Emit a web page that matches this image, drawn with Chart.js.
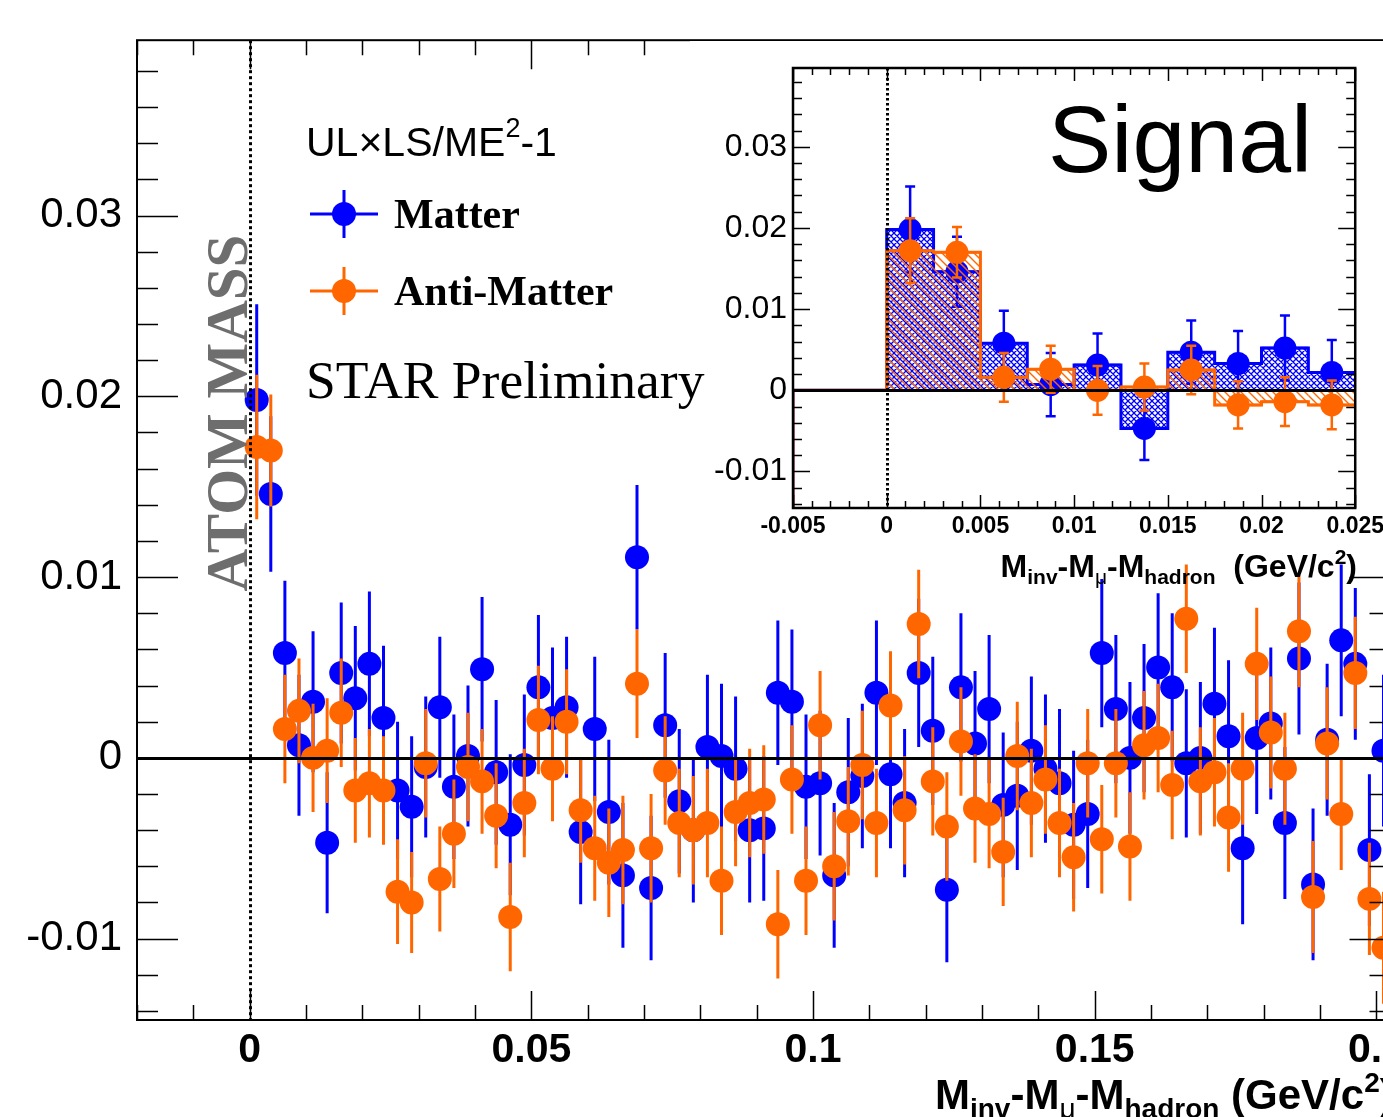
<!DOCTYPE html>
<html>
<head>
<meta charset="utf-8">
<title>UL x LS / ME^2 - 1 : Matter vs Anti-Matter</title>
<script src="https://cdn.jsdelivr.net/npm/chart.js@4.4.0/dist/chart.umd.min.js"></script>
<style>
  html, body { margin: 0; padding: 0; background: #fff; overflow: hidden; width: 1383px; height: 1117px; }
  #mainChart { position: absolute; left: 0; top: 0; }
  #insetChart { position: absolute; left: 690px; top: 41px; }
</style>
</head>
<body>
<canvas id="mainChart" width="1411" height="1117"></canvas>
<canvas id="insetChart" width="699" height="560"></canvas>
<script>
// bin centres of M_inv - M_mu - M_hadron (GeV/c^2), 2.5 MeV bins
const binCenters = [
  0.00125, 0.00375, 0.00625, 0.00875, 0.01125, 0.01375, 0.01625, 0.01875,
  0.02125, 0.02375, 0.02625, 0.02875, 0.03125, 0.03375, 0.03625, 0.03875,
  0.04125, 0.04375, 0.04625, 0.04875, 0.05125, 0.05375, 0.05625, 0.05875,
  0.06125, 0.06375, 0.06625, 0.06875, 0.07125, 0.07375, 0.07625, 0.07875,
  0.08125, 0.08375, 0.08625, 0.08875, 0.09125, 0.09375, 0.09625, 0.09875,
  0.10125, 0.10375, 0.10625, 0.10875, 0.11125, 0.11375, 0.11625, 0.11875,
  0.12125, 0.12375, 0.12625, 0.12875, 0.13125, 0.13375, 0.13625, 0.13875,
  0.14125, 0.14375, 0.14625, 0.14875, 0.15125, 0.15375, 0.15625, 0.15875,
  0.16125, 0.16375, 0.16625, 0.16875, 0.17125, 0.17375, 0.17625, 0.17875,
  0.18125, 0.18375, 0.18625, 0.18875, 0.19125, 0.19375, 0.19625, 0.19875,
  0.20125
];
const binWidth = 0.0025;

// Matter
const matterVals = [
  0.0198, 0.0146, 0.0058, 0.0007, 0.0031, -0.0047, 0.0047, 0.0033,
  0.0052, 0.0022, -0.0018, -0.0027, -0.0005, 0.0028, -0.0016, 0.0001,
  0.0049, -0.0008, -0.0037, -0.0004, 0.0039, 0.0022, 0.0028, -0.0041,
  0.0016, -0.0030, -0.0065, 0.0111, -0.0072, 0.0018, -0.0024, -0.0040,
  0.0006, 0.0001, -0.0006, -0.0040, -0.0039, 0.0036, 0.0031, -0.0016,
  -0.0014, -0.0065, -0.0019, -0.0010, 0.0036, -0.0009, -0.0025, 0.0047,
  0.0015, -0.0073, 0.0039, 0.0008, 0.0027, -0.0026, -0.0021, 0.0004,
  -0.0006, -0.0014, -0.0037, -0.0031, 0.0058, 0.0027, 0.0000, 0.0022,
  0.0050, 0.0039, -0.0003, 0.0000, 0.0030, 0.0012, -0.0050, 0.0011,
  0.0019, -0.0036, 0.0055, -0.0070, 0.0010, 0.0065, 0.0052, -0.0051,
  0.0004
];
const matterErrs = [
  0.0053, 0.0043, 0.0040, 0.0039, 0.0039, 0.0039, 0.0039, 0.0040,
  0.0040, 0.0040, 0.0038, 0.0039, 0.0039, 0.0039, 0.0040, 0.0039,
  0.0040, 0.0040, 0.0039, 0.0039, 0.0040, 0.0039, 0.0039, 0.0040,
  0.0040, 0.0040, 0.0040, 0.0040, 0.0040, 0.0040, 0.0040, 0.0040,
  0.0040, 0.0040, 0.0040, 0.0040, 0.0040, 0.0040, 0.0040, 0.0040,
  0.0040, 0.0040, 0.0041, 0.0040, 0.0040, 0.0041, 0.0041, 0.0041,
  0.0041, 0.0040, 0.0041, 0.0040, 0.0041, 0.0040, 0.0041, 0.0041,
  0.0041, 0.0041, 0.0041, 0.0041, 0.0041, 0.0041, 0.0042, 0.0041,
  0.0041, 0.0041, 0.0041, 0.0042, 0.0042, 0.0042, 0.0042, 0.0042,
  0.0042, 0.0042, 0.0042, 0.0042, 0.0042, 0.0042, 0.0042, 0.0042,
  0.0042
];

// Anti-Matter
const antiVals = [
  0.0172, 0.0170, 0.0016, 0.0026, 0.0000, 0.0004, 0.0025, -0.0018,
  -0.0014, -0.0018, -0.0074, -0.0080, -0.0003, -0.0067, -0.0042, -0.0005,
  -0.0013, -0.0032, -0.0088, -0.0025, 0.0021, -0.0006, 0.0020, -0.0029,
  -0.0050, -0.0058, -0.0051, 0.0041, -0.0050, -0.0007, -0.0036, -0.0040,
  -0.0036, -0.0068, -0.0030, -0.0025, -0.0023, -0.0092, -0.0012, -0.0068,
  0.0018, -0.0060, -0.0035, -0.0004, -0.0036, 0.0029, -0.0029, 0.0074,
  -0.0013, -0.0038, 0.0009, -0.0028, -0.0031, -0.0052, 0.0001, -0.0025,
  -0.0012, -0.0036, -0.0055, -0.0003, -0.0045, -0.0003, -0.0049, 0.0007,
  0.0011, -0.0015, 0.0077, -0.0013, -0.0008, -0.0033, -0.0006, 0.0052,
  0.0014, -0.0006, 0.0070, -0.0077, 0.0008, -0.0031, 0.0047, -0.0078,
  -0.0105
];
const antiErrs = [
  0.0040, 0.0031, 0.0030, 0.0029, 0.0030, 0.0029, 0.0030, 0.0029,
  0.0030, 0.0030, 0.0029, 0.0028, 0.0030, 0.0029, 0.0030, 0.0030,
  0.0029, 0.0029, 0.0030, 0.0030, 0.0030, 0.0029, 0.0029, 0.0029,
  0.0029, 0.0030, 0.0030, 0.0030, 0.0030, 0.0030, 0.0030, 0.0030,
  0.0030, 0.0030, 0.0030, 0.0030, 0.0030, 0.0030, 0.0030, 0.0030,
  0.0030, 0.0030, 0.0030, 0.0030, 0.0030, 0.0030, 0.0030, 0.0030,
  0.0030, 0.0030, 0.0030, 0.0030, 0.0030, 0.0030, 0.0030, 0.0030,
  0.0030, 0.0030, 0.0030, 0.0030, 0.0030, 0.0030, 0.0030, 0.0030,
  0.0030, 0.0030, 0.0030, 0.0030, 0.0030, 0.0030, 0.0031, 0.0031,
  0.0031, 0.0031, 0.0031, 0.0031, 0.0031, 0.0031, 0.0031, 0.0031,
  0.0031
];

// bins left of threshold, only their edge shows in the inset
const leadCenters = [-0.00625, -0.00375, -0.00125];
const leadVals = [-1, 0, 0];

const xTickLabels = [0, 0.05, 0.1, 0.15, 0.2];
const yTickLabels = [-0.01, 0, 0.01, 0.02, 0.03];
const insetBins = 10;
const insetXTicks = [-0.005, 0, 0.005, 0.01, 0.015, 0.02, 0.025];
const insetYTicks = [-0.01, 0, 0.01, 0.02, 0.03];

const BLUE = '#0000ff';
const ORANGE = '#ff6600';
const SANS = "'Liberation Sans', Arial, sans-serif";
const SERIF = "'Liberation Serif', 'Times New Roman', serif";

function fmt(v) {
  return String(+v.toFixed(4));
}

function toPoints(vals, n) {
  return vals.slice(0, n).map((v, i) => ({ x: binCenters[i], y: v }));
}

function clipArea(ctx, a) {
  ctx.beginPath();
  ctx.rect(a.left, a.top, a.right - a.left, a.bottom - a.top);
  ctx.clip();
}

// ROOT style ticks pointing into the frame on all four sides
function rootTicks(chart, xStep, yStep, xLen, yLen) {
  const { ctx, chartArea: a, scales: { x, y } } = chart;
  ctx.save();
  ctx.strokeStyle = '#000';
  ctx.lineWidth = 1.5;
  ctx.beginPath();
  for (let k = Math.ceil(x.min / xStep - 1e-6); k * xStep <= x.max + 1e-9; k++) {
    const px = Math.round(x.getPixelForValue(k * xStep)) + 0.5;
    const len = k % 5 === 0 ? xLen[1] : xLen[0];
    ctx.moveTo(px, a.bottom); ctx.lineTo(px, a.bottom - len);
    ctx.moveTo(px, a.top); ctx.lineTo(px, a.top + len);
  }
  for (let k = Math.ceil(y.min / yStep - 1e-6); k * yStep <= y.max + 1e-9; k++) {
    const py = Math.round(y.getPixelForValue(k * yStep)) + 0.5;
    const len = k % 5 === 0 ? yLen[1] : yLen[0];
    ctx.moveTo(a.left, py); ctx.lineTo(a.left + len, py);
    ctx.moveTo(a.right, py); ctx.lineTo(a.right - len, py);
  }
  ctx.stroke();
  ctx.restore();
}

function frameAndLines(chart, frameW, zeroW, dash) {
  const { ctx, chartArea: a, scales: { x, y } } = chart;
  ctx.save();
  // zero line
  ctx.strokeStyle = '#000';
  ctx.lineWidth = zeroW;
  const y0 = Math.round(y.getPixelForValue(0)) + 0.5;
  ctx.beginPath(); ctx.moveTo(a.left, y0); ctx.lineTo(a.right, y0); ctx.stroke();
  // threshold (atom mass) dotted line
  const x0 = Math.round(x.getPixelForValue(0)) + 0.5;
  ctx.lineWidth = 3;
  ctx.setLineDash(dash);
  ctx.beginPath(); ctx.moveTo(x0, a.top); ctx.lineTo(x0, a.bottom); ctx.stroke();
  ctx.setLineDash([]);
  ctx.lineWidth = frameW;
  ctx.strokeRect(a.left, a.top, a.right - a.left, a.bottom - a.top);
  ctx.restore();
}

function richText(ctx, x, y, parts, align) {
  let w = 0;
  parts.forEach(p => { ctx.font = p[1]; w += ctx.measureText(p[0]).width; });
  let cx = align === 'right' ? x - w : x;
  ctx.textAlign = 'left';
  ctx.textBaseline = 'alphabetic';
  parts.forEach(p => {
    ctx.font = p[1];
    ctx.fillText(p[0], cx, y + (p[2] || 0));
    cx += ctx.measureText(p[0]).width;
  });
}

function errorBars(chart, ds, lineW, cap, withX) {
  const { ctx, chartArea: a, scales: { x, y } } = chart;
  ctx.save();
  clipArea(ctx, a);
  ctx.strokeStyle = ds.backgroundColor;
  ctx.lineWidth = lineW;
  ctx.beginPath();
  ds.data.forEach((p, i) => {
    const px = x.getPixelForValue(p.x);
    const top = y.getPixelForValue(p.y + ds.errs[i]);
    const bot = y.getPixelForValue(p.y - ds.errs[i]);
    ctx.moveTo(px, top); ctx.lineTo(px, bot);
    if (cap) {
      ctx.moveTo(px - cap, top); ctx.lineTo(px + cap, top);
      ctx.moveTo(px - cap, bot); ctx.lineTo(px + cap, bot);
    }
    if (withX) {
      const py = y.getPixelForValue(p.y);
      ctx.moveTo(x.getPixelForValue(p.x - binWidth / 2), py);
      ctx.lineTo(x.getPixelForValue(p.x + binWidth / 2), py);
    }
  });
  ctx.stroke();
  ctx.restore();
}

// ---------- main plot ----------
const mainDeco = {
  id: 'mainDeco',
  beforeDatasetDraw(chart, args) {
    errorBars(chart, chart.data.datasets[args.index], 3, 0, false);
  },
  afterDatasetsDraw(chart) {
    frameAndLines(chart, 2, 3, [3, 3]);
    rootTicks(chart, 0.01, 0.002, [15, 29], [21, 41]);
  },
  afterDraw(chart) {
    const ctx = chart.ctx;
    ctx.save();
    ctx.fillStyle = '#000';

    // ATOM MASS label beside the threshold line
    ctx.save();
    ctx.translate(247, 413);
    ctx.rotate(-Math.PI / 2);
    ctx.fillStyle = '#6e6e6e';
    ctx.font = 'bold 59px ' + SERIF;
    ctx.textAlign = 'center';
    ctx.textBaseline = 'alphabetic';
    ctx.fillText('ATOM MASS', 0, 0);
    ctx.restore();

    richText(ctx, 306, 156, [
      ['UL\u00d7LS/ME', '41px ' + SANS],
      ['2', '27px ' + SANS, -19],
      ['-1', '41px ' + SANS]
    ]);

    // legend
    [[214, BLUE, 'Matter'], [291, ORANGE, 'Anti-Matter']].forEach(([ly, col, label]) => {
      ctx.strokeStyle = col;
      ctx.fillStyle = col;
      ctx.lineWidth = 3;
      ctx.beginPath();
      ctx.moveTo(310, ly); ctx.lineTo(378, ly);
      ctx.moveTo(344, ly - 24); ctx.lineTo(344, ly + 24);
      ctx.stroke();
      ctx.beginPath(); ctx.arc(344, ly, 12, 0, Math.PI * 2); ctx.fill();
      ctx.fillStyle = '#000';
      ctx.font = 'bold 42px ' + SERIF;
      ctx.textAlign = 'left';
      ctx.fillText(label, 394, ly + 14);
    });

    ctx.font = '53.5px ' + SERIF;
    ctx.fillText('STAR Preliminary', 306, 398);

    const B = 'bold 42px ' + SANS, S = 'bold 28px ' + SANS, U = '28px ' + SANS;
    richText(ctx, 935, 1109, [
      ['M', B], ['inv', S, 9], ['-M', B], ['\u03bc', U, 9], ['-M', B],
      ['hadron', S, 9], [' (GeV/c', B], ['2', S, -17], [')', B]
    ]);
    ctx.restore();
  }
};

new Chart(document.getElementById('mainChart'), {
  type: 'scatter',
  data: {
    datasets: [
      {
        label: 'Matter',
        data: toPoints(matterVals),
        errs: matterErrs,
        backgroundColor: BLUE,
        pointRadius: 12,
        pointBorderWidth: 0,
        order: 2
      },
      {
        label: 'Anti-Matter',
        data: toPoints(antiVals),
        errs: antiErrs,
        backgroundColor: ORANGE,
        pointRadius: 12,
        pointBorderWidth: 0,
        order: 1
      }
    ]
  },
  options: {
    responsive: false,
    devicePixelRatio: 1,
    animation: false,
    events: [],
    layout: { autoPadding: false, padding: { top: 40, right: 6, left: 0, bottom: 0 } },
    plugins: { legend: { display: false }, tooltip: { enabled: false } },
    scales: {
      x: {
        type: 'linear',
        min: -0.02,
        max: 0.2025,
        grid: { display: false, drawTicks: false },
        border: { display: false },
        afterFit: s => { s.height = 97; },
        afterBuildTicks: s => { s.ticks = xTickLabels.map(v => ({ value: v })); },
        ticks: {
          autoSkip: false,
          maxRotation: 0,
          padding: 6,
          color: '#000',
          font: { family: SANS, size: 41, weight: 'bold' },
          callback: v => fmt(v)
        }
      },
      y: {
        type: 'linear',
        min: -0.0145,
        max: 0.0397,
        grid: { display: false, drawTicks: false },
        border: { display: false },
        afterFit: s => { s.width = 137; },
        afterBuildTicks: s => { s.ticks = yTickLabels.map(v => ({ value: v })); },
        ticks: {
          padding: 15,
          color: '#000',
          font: { family: SANS, size: 42 },
          callback: v => fmt(v)
        }
      }
    }
  },
  plugins: [mainDeco]
});

// ---------- Signal inset ----------
function hatchPattern(ctx, kind, color) {
  const c = document.createElement('canvas');
  const n = kind === 'cross' ? 6 : 8;
  c.width = n; c.height = n;
  const g = c.getContext('2d');
  g.strokeStyle = color;
  g.lineWidth = kind === 'cross' ? 1.3 : 1.4;
  g.beginPath();
  g.moveTo(-1, -1); g.lineTo(n + 1, n + 1);
  g.moveTo(-1, n - 1); g.lineTo(1, n + 1);
  g.moveTo(n - 1, -1); g.lineTo(n + 1, 1);
  if (kind === 'cross') {
    g.moveTo(-1, n + 1); g.lineTo(n + 1, -1);
    g.moveTo(-1, 1); g.lineTo(1, -1);
    g.moveTo(n - 1, n + 1); g.lineTo(n + 1, n - 1);
  }
  g.stroke();
  return ctx.createPattern(c, 'repeat');
}

function drawHist(chart, ds) {
  const { ctx, chartArea: a, scales: { x, y } } = chart;
  const centers = leadCenters.concat(ds.data.map(p => p.x));
  const vals = leadVals.concat(ds.data.map(p => p.y));
  const y0 = y.getPixelForValue(0);
  ctx.save();
  clipArea(ctx, a);
  ctx.fillStyle = hatchPattern(ctx, ds.hatch, ds.backgroundColor);
  centers.forEach((c, i) => {
    const x0 = x.getPixelForValue(c - binWidth / 2);
    const x1 = x.getPixelForValue(c + binWidth / 2);
    const yv = y.getPixelForValue(vals[i]);
    ctx.fillRect(x0, Math.min(y0, yv), x1 - x0, Math.abs(yv - y0));
  });
  ctx.strokeStyle = ds.backgroundColor;
  ctx.lineWidth = 3;
  ctx.beginPath();
  centers.forEach((c, i) => {
    const x0 = x.getPixelForValue(c - binWidth / 2);
    const x1 = x.getPixelForValue(c + binWidth / 2);
    const yv = y.getPixelForValue(vals[i]);
    if (i === 0) ctx.moveTo(x0, y0);
    ctx.lineTo(x0, yv);
    ctx.lineTo(x1, yv);
  });
  ctx.stroke();
  ctx.restore();
}

const insetDeco = {
  id: 'insetDeco',
  beforeDraw(chart) {
    // white pad behind the inset, leaving room for the end of "STAR Preliminary"
    const ctx = chart.ctx;
    ctx.save();
    ctx.fillStyle = '#fff';
    ctx.fillRect(0, 0, chart.width, 310);
    ctx.fillRect(16, 310, chart.width - 16, 209);
    ctx.restore();
  },
  beforeDatasetDraw(chart, args) {
    const ds = chart.data.datasets[args.index];
    drawHist(chart, ds);
    errorBars(chart, ds, 2.5, 5, true);
  },
  afterDatasetsDraw(chart) {
    frameAndLines(chart, 2.5, 3, [2.5, 2.5]);
    rootTicks(chart, 0.001, 0.002, [7, 13], [9, 17]);
  },
  afterDraw(chart) {
    const ctx = chart.ctx;
    ctx.save();
    ctx.fillStyle = '#000';
    ctx.font = '95px ' + SANS;
    ctx.textAlign = 'left';
    ctx.textBaseline = 'alphabetic';
    ctx.fillText('Signal', 358, 131);
    const B = 'bold 32px ' + SANS, S = 'bold 21px ' + SANS, U = '21px ' + SANS;
    richText(ctx, 667, 536, [
      ['M', B], ['inv', S, 7], ['-M', B], ['\u03bc', U, 7], ['-M', B],
      ['hadron', S, 7], ['  (GeV/c', B], ['2', S, -13], [')', B]
    ], 'right');
    ctx.restore();
  }
};

new Chart(document.getElementById('insetChart'), {
  type: 'scatter',
  data: {
    datasets: [
      {
        label: 'Matter',
        data: toPoints(matterVals, insetBins),
        errs: matterErrs.slice(0, insetBins),
        backgroundColor: BLUE,
        hatch: 'cross',
        pointRadius: 11.5,
        pointBorderWidth: 0,
        order: 2
      },
      {
        label: 'Anti-Matter',
        data: toPoints(antiVals, insetBins),
        errs: antiErrs.slice(0, insetBins),
        backgroundColor: ORANGE,
        hatch: 'diag',
        pointRadius: 11.5,
        pointBorderWidth: 0,
        order: 1
      }
    ]
  },
  options: {
    responsive: false,
    devicePixelRatio: 1,
    animation: false,
    events: [],
    layout: { autoPadding: false, padding: { top: 27, right: 27, left: 0, bottom: 0 } },
    plugins: { legend: { display: false }, tooltip: { enabled: false } },
    scales: {
      x: {
        type: 'linear',
        min: -0.005,
        max: 0.025,
        grid: { display: false, drawTicks: false },
        border: { display: false },
        afterFit: s => { s.height = 93; },
        afterBuildTicks: s => { s.ticks = insetXTicks.map(v => ({ value: v })); },
        ticks: {
          autoSkip: false,
          maxRotation: 0,
          padding: 5,
          color: '#000',
          font: { family: SANS, size: 23, weight: 'bold' },
          callback: v => fmt(v)
        }
      },
      y: {
        type: 'linear',
        min: -0.0145,
        max: 0.0397,
        grid: { display: false, drawTicks: false },
        border: { display: false },
        afterFit: s => { s.width = 103; },
        afterBuildTicks: s => { s.ticks = insetYTicks.map(v => ({ value: v })); },
        ticks: {
          padding: 6,
          color: '#000',
          font: { family: SANS, size: 32 },
          callback: v => fmt(v)
        }
      }
    }
  },
  plugins: [insetDeco]
});
</script>
</body>
</html>
